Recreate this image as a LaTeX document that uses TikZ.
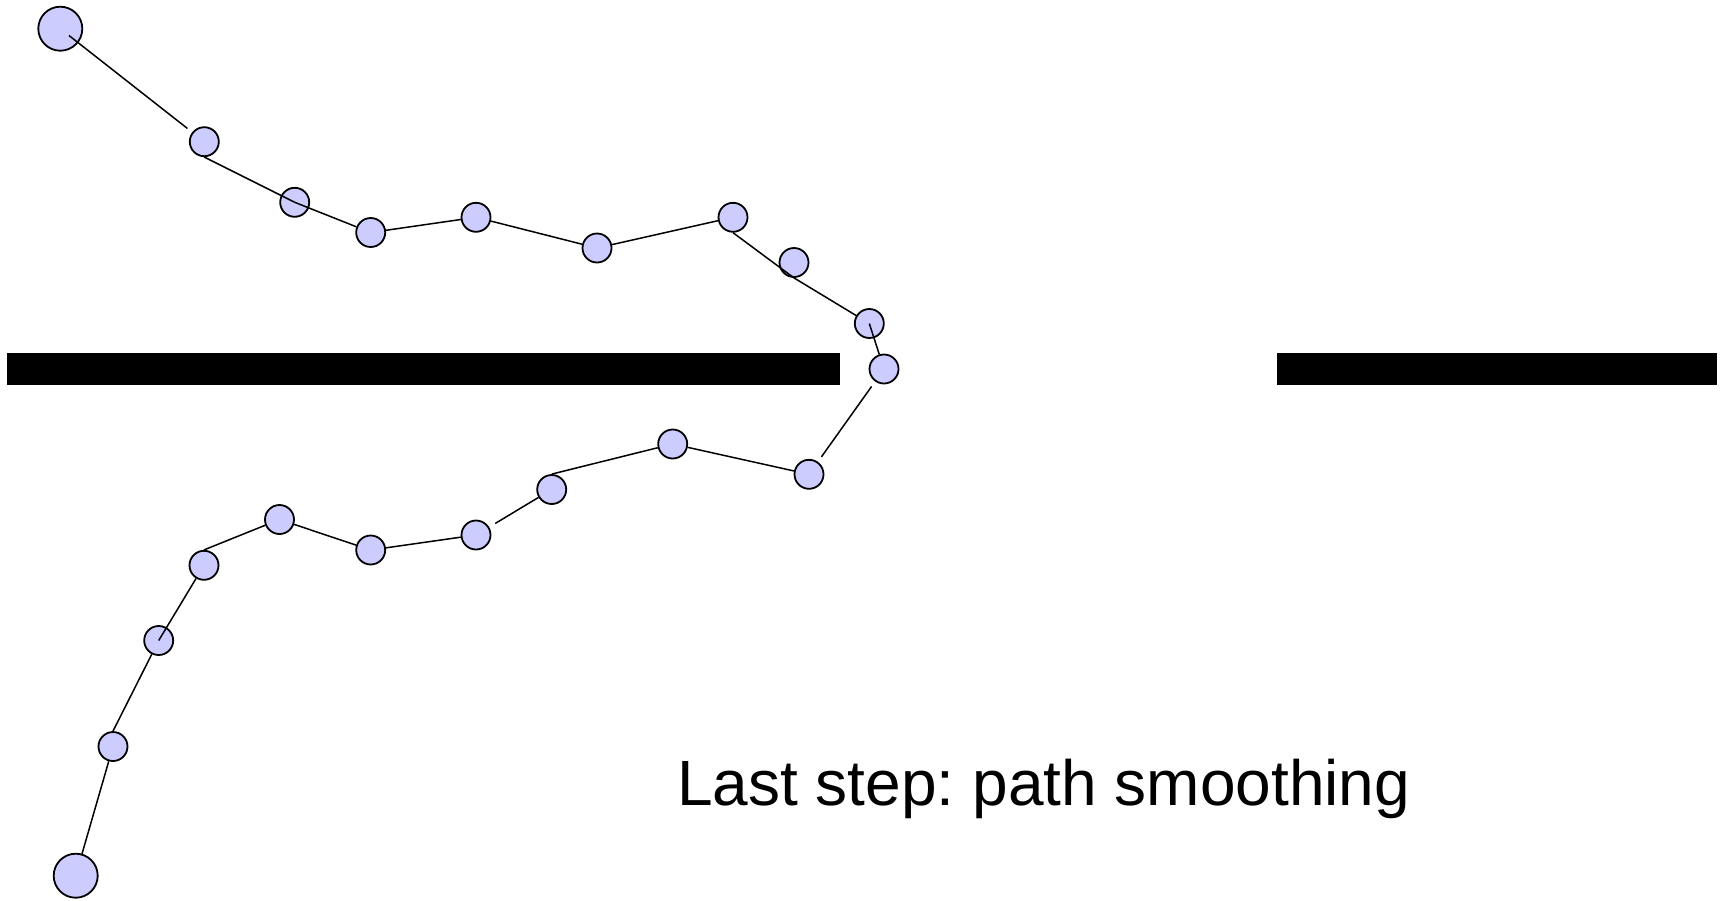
\documentclass[tikz,border=0pt]{standalone}
\usepackage{fontspec}
\setmainfont{Liberation Sans}
\frenchspacing
\definecolor{nodefill}{HTML}{CCCCFF}
\tikzset{
  wp/.style={circle, draw=black, line width=1.8pt, fill=nodefill, minimum size=29pt, inner sep=0pt},
  wpbig/.style={wp, minimum size=44pt},
  link/.style={draw=black, line width=1.5pt},
  wall/.style={fill=black, draw=none}
}
\begin{document}
\begin{tikzpicture}[x=1pt,y=-1pt]
\useasboundingbox (0,0) rectangle (1720,900);
% walls
\path[wall] (7,352.7) rectangle (840.3,384.7);
\path[wall] (1277,352.7) rectangle (1717.3,384.7);
% waypoints
\node[wpbig] (n1) at (60.3,28.7) {};
\node[wp] (n2) at (204.3,141.7) {};
\node[wp] (n3) at (294.7,202.3) {};
\node[wp] (n4) at (370.7,232.5) {};
\node[wp] (n5) at (476,217.3) {};
\node[wp] (n6) at (597,248) {};
\node[wp] (n7) at (733,217.3) {};
\node[wp] (n8) at (794,262.5) {};
\node[wp] (n9) at (869.3,323.5) {};
\node[wp] (n10) at (884,369) {};
\node[wp] (n11) at (809,474.3) {};
\node[wp] (n12) at (672.7,444) {};
\node[wp] (n13) at (551.7,489.5) {};
\node[wp] (n14) at (476,535) {};
\node[wp] (n15) at (370.7,550) {};
\node[wp] (n16) at (279.5,519.5) {};
\node[wp] (n17) at (204,565.3) {};
\node[wp] (n18) at (158.7,640.5) {};
\node[wp] (n19) at (113,746.5) {};
\node[wpbig] (n20) at (75.7,875.7) {};
% connectors
\draw[link, shorten <=11pt, shorten >=6pt] (n1.center) -- (n2);
\draw[link] (n2.south) -- (n3.center);
\draw[link] (n3.center) -- (n4);
\draw[link] (n4) -- (n5);
\draw[link] (n5) -- (n6);
\draw[link] (n6) -- (n7);
\draw[link] (n7.south) -- (n8.south);
\draw[link] (n8.south) -- (n9);
\draw[link] (n9.center) -- (n10);
\draw[link, shorten <=6pt, shorten >=6pt] (n10) -- (n11);
\draw[link] (n11) -- (n12);
\draw[link] (n12) -- (n13.north);
\draw[link, shorten >=7pt] (n13) -- (n14);
\draw[link] (n14) -- (n15);
\draw[link] (n15) -- (n16);
\draw[link] (n16) -- (n17.north);
\draw[link] (n17) -- (n18.center);
\draw[link] (n18) -- (n19.north);
\draw[link] (n19) -- (n20);
% caption
\node[anchor=base west, inner sep=0pt, font=\fontsize{64}{76}\selectfont] (cap) at (677,805) {Last step: path smoothing};
\end{tikzpicture}
\end{document}
